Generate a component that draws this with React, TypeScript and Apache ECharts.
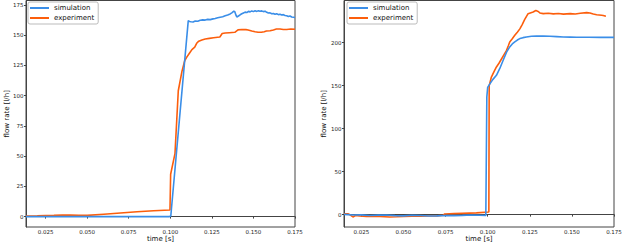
import React, { useEffect, useRef } from "react";
import * as echarts from "echarts";

// Left panel
const tSimA = [0.0132, 0.05, 0.0995, 0.1003, 0.1108, 0.1115, 0.1125, 0.1137, 0.115, 0.1165, 0.118, 0.1195, 0.121, 0.1225, 0.124, 0.1257, 0.127, 0.1285, 0.13, 0.1315, 0.133, 0.1345, 0.136, 0.1372, 0.1382, 0.1388, 0.1395, 0.14, 0.141, 0.142, 0.143, 0.144, 0.145, 0.146, 0.147, 0.148, 0.149, 0.15, 0.151, 0.152, 0.153, 0.154, 0.155, 0.156, 0.157, 0.158, 0.159, 0.16, 0.161, 0.162, 0.163, 0.164, 0.165, 0.166, 0.167, 0.168, 0.169, 0.17, 0.171, 0.172, 0.173, 0.174, 0.175];
const vSimA = [0, 0, 0, 0.5, 162, 161.3, 161, 160.8, 161.6, 161.4, 162.3, 162.6, 162.4, 163, 162.8, 163.4, 163.7, 164.3, 164.8, 165.2, 166, 166.6, 167.5, 168.6, 169.8, 169.4, 166.5, 165, 165.8, 166.8, 167.6, 168.3, 169, 168.6, 169.6, 169.2, 170, 169.4, 170.1, 169.6, 170.2, 169.7, 170, 169.4, 169.8, 168.8, 168.2, 168.4, 167.6, 167.9, 167.2, 167.6, 166.9, 167.2, 166.6, 166.9, 166.2, 166, 165.4, 165.8, 165, 164.8, 164.6];
const tExpA = [0.0132, 0.02, 0.025, 0.03, 0.035, 0.04, 0.045, 0.05, 0.06, 0.07, 0.08, 0.09, 0.0998, 0.1002, 0.1028, 0.1048, 0.107, 0.1087, 0.11, 0.1115, 0.113, 0.1147, 0.116, 0.1171, 0.119, 0.121, 0.1235, 0.126, 0.1285, 0.1298, 0.1312, 0.133, 0.1355, 0.1388, 0.1407, 0.143, 0.1455, 0.1468, 0.149, 0.151, 0.1528, 0.1548, 0.1565, 0.1578, 0.16, 0.162, 0.1638, 0.166, 0.168, 0.17, 0.1725, 0.175];
const vExpA = [0.5, 0.6, 0.8, 1.0, 1.3, 1.2, 1.0, 1.0, 2.0, 3.0, 4.0, 4.8, 5.5, 35, 52, 104, 120, 129, 132, 135, 138, 140, 143.5, 145, 146, 146.8, 147.3, 147.8, 148.2, 148.4, 151.3, 151.7, 152, 152.3, 154.3, 154.6, 154.5, 154.2, 153.4, 152.8, 152.4, 152.3, 152.8, 153.4, 153.6, 154.3, 155, 155, 154.6, 154.6, 155, 154.8];

// Right panel
const tSimB = [0.0147, 0.02, 0.025, 0.03, 0.035, 0.04, 0.045, 0.05, 0.055, 0.06, 0.065, 0.07, 0.075, 0.08, 0.085, 0.09, 0.095, 0.0989, 0.0995, 0.1, 0.1013, 0.103, 0.1052, 0.1072, 0.1092, 0.1112, 0.1131, 0.1146, 0.1161, 0.1176, 0.1191, 0.121, 0.123, 0.126, 0.129, 0.133, 0.137, 0.141, 0.1449, 0.149, 0.1528, 0.16, 0.167, 0.175];
const vSimB = [0.3, -0.5, -0.3, -1.0, -0.6, -0.5, -1.2, -1.5, -0.8, -1.0, -1.6, -1.5, -1.0, -1.2, -0.9, -0.5, -0.8, -1.0, 137, 148, 152, 157, 162, 170, 179.5, 189, 195, 198.5, 200.8, 203, 204.7, 205.8, 206.6, 207.4, 207.8, 207.6, 207.4, 207, 206.6, 206.4, 206.2, 206.2, 206.1, 206.1];
const tExpB = [0.0147, 0.017, 0.0185, 0.02, 0.0215, 0.024, 0.028, 0.032, 0.036, 0.0418, 0.046, 0.05, 0.055, 0.06, 0.065, 0.07, 0.0735, 0.0745, 0.08, 0.085, 0.0933, 0.1007, 0.1009, 0.1022, 0.1037, 0.1052, 0.1067, 0.1082, 0.1097, 0.1112, 0.1122, 0.1131, 0.1146, 0.1161, 0.1176, 0.1191, 0.1205, 0.122, 0.124, 0.127, 0.1286, 0.13, 0.131, 0.133, 0.136, 0.139, 0.142, 0.145, 0.149, 0.152, 0.155, 0.1588, 0.1607, 0.1627, 0.1647, 0.1676, 0.1686, 0.1702];
const vExpB = [1.0, 1.0, -0.5, -2.7, -1.0, -1.5, -2.0, -2.0, -2.2, -2.7, -2.4, -2.0, -1.9, -1.8, -1.6, -1.5, -0.8, 0.8, 1.2, 1.5, 2.0, 3.1, 150, 160, 166, 171.7, 176, 181, 186, 191, 196, 200.8, 204.5, 208.5, 212, 216, 221, 227, 233.7, 235.6, 237.4, 236.2, 234.5, 233.7, 234.2, 233.4, 233.9, 233.2, 233.7, 233.3, 234.1, 234.9, 234.5, 233.2, 232.4, 231.8, 231.6, 230.8];

const xTicks = [0.025, 0.05, 0.075, 0.1, 0.125, 0.15, 0.175];
const yTicksA = [0, 25, 50, 75, 100, 125, 150, 175];
const yTicksB = [0, 50, 100, 150, 200];
const seriesNames = ["simulation", "experiment"];

const BLUE = "#3a8ee8";
const ORANGE = "#fc5e0c";
const FONT = "DejaVu Sans";

const zip = (t: number[], v: number[]) => t.map((x, i) => [x, v[i]]);

export default function App() {
  const ref = useRef<HTMLDivElement>(null);
  useEffect(() => {
    if (!ref.current) return;
    const chart = echarts.init(ref.current, null, { renderer: "svg" });
    const frame = "#444";
    const mkX = (idx: number, min: number) => ({
      type: "value",
      gridIndex: idx,
      min,
      max: 0.175,
      name: "time [s]",
      nameLocation: "middle",
      nameGap: 8,
      nameMoveOverlap: false,
      nameTextStyle: { fontSize: 7, color: "#111", fontFamily: FONT, lineHeight: 8 },
      axisLine: { show: true, lineStyle: { color: frame, width: 1 } },
      axisTick: { show: true, length: 2, customValues: xTicks, lineStyle: { color: frame } },
      axisLabel: {
        customValues: xTicks,
        formatter: (v: number) => v.toFixed(3),
        fontSize: 5.5,
        margin: 2,
        color: "#222",
        fontFamily: FONT,
      },
      splitLine: { show: false },
    });
    const mkY = (idx: number, min: number, max: number, ticks: number[], gap: number) => ({
      type: "value",
      gridIndex: idx,
      min,
      max,
      name: "flow rate [l/h]",
      nameLocation: "middle",
      nameGap: gap,
      nameMoveOverlap: false,
      nameTextStyle: { fontSize: 7, color: "#111", fontFamily: FONT },
      axisLine: { show: true, lineStyle: { color: frame, width: 1 } },
      axisTick: { show: true, length: 2, customValues: ticks, lineStyle: { color: frame } },
      axisLabel: {
        customValues: ticks,
        fontSize: 5.5,
        margin: 2.5,
        color: "#222",
        fontFamily: FONT,
      },
      splitLine: { show: false },
    });
    const mkLegend = (left: number) => ({
      show: true,
      orient: "vertical",
      left,
      top: 2,
      data: seriesNames,
      icon: "rect",
      itemWidth: 19,
      itemHeight: 2,
      itemGap: 2,
      padding: [2, 4, 2, 2],
      backgroundColor: "#fff",
      borderColor: "#aaa",
      borderWidth: 0.8,
      borderRadius: 2,
      textStyle: { fontSize: 7, color: "#111", fontFamily: FONT, lineHeight: 8 },
      selectedMode: false,
    });
    const line = (name: string, color: string, data: number[][], idx: number) => ({
      type: "line",
      name,
      xAxisIndex: idx,
      yAxisIndex: idx,
      data,
      showSymbol: false,
      symbol: "none",
      lineStyle: { color, width: 1.6 },
      itemStyle: { color },
      color,
      z: name === "simulation" ? 3 : 2,
    });
    chart.setOption({
      animation: false,
      backgroundColor: "#fff",
      textStyle: { fontFamily: FONT },
      grid: [
        { left: 26, right: 328, top: 0.5, bottom: 19, containLabel: false, outerBoundsMode: "none", show: true, borderColor: frame, borderWidth: 1 },
        { left: 344, right: 9, top: 0.5, bottom: 19, containLabel: false, outerBoundsMode: "none", show: true, borderColor: frame, borderWidth: 1 },
      ],
      legend: [mkLegend(28), mkLegend(347)],
      xAxis: [mkX(0, 0.0132), mkX(1, 0.0147)],
      yAxis: [mkY(0, -8.6, 178.6, yTicksA, 16), mkY(1, -14.4, 249, yTicksB, 17)],
      series: [
        line("experiment", ORANGE, zip(tExpA, vExpA), 0),
        line("simulation", BLUE, zip(tSimA, vSimA), 0),
        line("experiment", ORANGE, zip(tExpB, vExpB), 1),
        line("simulation", BLUE, zip(tSimB, vSimB), 1),
      ],
    });
    return () => chart.dispose();
  }, []);
  return (
    <div
      ref={ref}
      style={{ position: "absolute", left: 0, top: 0, width: 623, height: 246 }}
    />
  );
}
